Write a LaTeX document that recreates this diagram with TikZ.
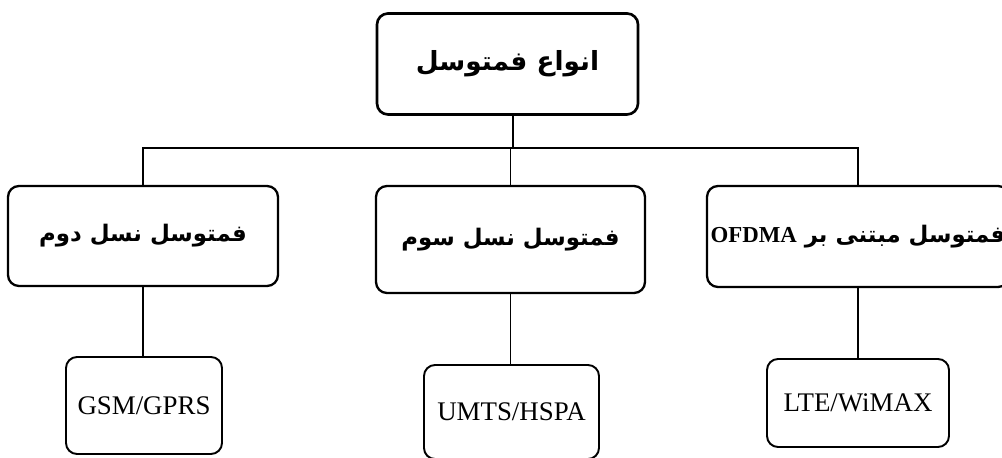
\documentclass[tikz,border=0pt]{standalone}
\usepackage{fontspec}
\setmainfont{Liberation Serif}
\newfontfamily\farsi[Script=Arabic]{DejaVu Sans}
\TeXXeTstate=1
\usepackage{tikz}
\usetikzlibrary{positioning}

\tikzset{
  box/.style={draw, thick, line width=1.3pt, rounded corners=0.22cm, align=center, inner sep=0pt},
  link/.style={line width=0.8pt},
}

\begin{document}
\begin{tikzpicture}[scale=1]

\useasboundingbox (0,0) rectangle (20.04,9.16);

% Root
\node[box, line width=1.5pt, minimum width=5.22cm, minimum height=2.02cm] (top) at (10.15,7.88)
  {\farsi\bfseries\fontsize{15}{18}\selectfont\beginR انواع فمتوسل\endR};

% Generations
\node[box, minimum width=5.4cm, minimum height=2.0cm] (gen2) at (2.86,4.44)
  {\farsi\bfseries\fontsize{13}{16}\selectfont\beginR فمتوسل نسل دوم\endR};
\node[box, minimum width=5.38cm, minimum height=2.14cm] (gen3) at (10.21,4.37)
  {\farsi\bfseries\fontsize{13}{16}\selectfont\beginR فمتوسل نسل سوم\endR};
\node[box, minimum width=6.04cm, minimum height=2.02cm] (ofdm) at (17.16,4.43)
  {\farsi\bfseries\fontsize{13}{16}\selectfont\beginR فمتوسل مبتنی بر \beginL{\rmfamily\bfseries OFDMA}\endL\endR};

% Technologies
\node[box, line width=1.1pt, minimum width=3.12cm, minimum height=1.94cm] (gsm) at (2.88,1.05)
  {\fontsize{15.3}{18}\selectfont GSM/GPRS};
\node[box, line width=1.1pt, minimum width=3.5cm, minimum height=1.88cm] (umts) at (10.23,0.92)
  {\fontsize{15.3}{18}\selectfont UMTS/HSPA};
\node[box, line width=1.1pt, minimum width=3.64cm, minimum height=1.76cm] (lte) at (17.16,1.1)
  {\fontsize{15.3}{18}\selectfont LTE/WiMAX};

% Connectors
\coordinate (hub) at (10.26,6.2);
\draw[link] (top.south -| hub) -- (hub);
\draw[link] (gen2.north) |- (hub) -| (ofdm.north);
\draw[link] (gen3.north) -- (gen3.north |- hub);
\draw[link] (gen2.south) -- (gen2.south |- gsm.north);
\draw[link] (gen3.south) -- (gen3.south |- umts.north);
\draw[link] (ofdm.south) -- (ofdm.south |- lte.north);

\end{tikzpicture}
\end{document}
